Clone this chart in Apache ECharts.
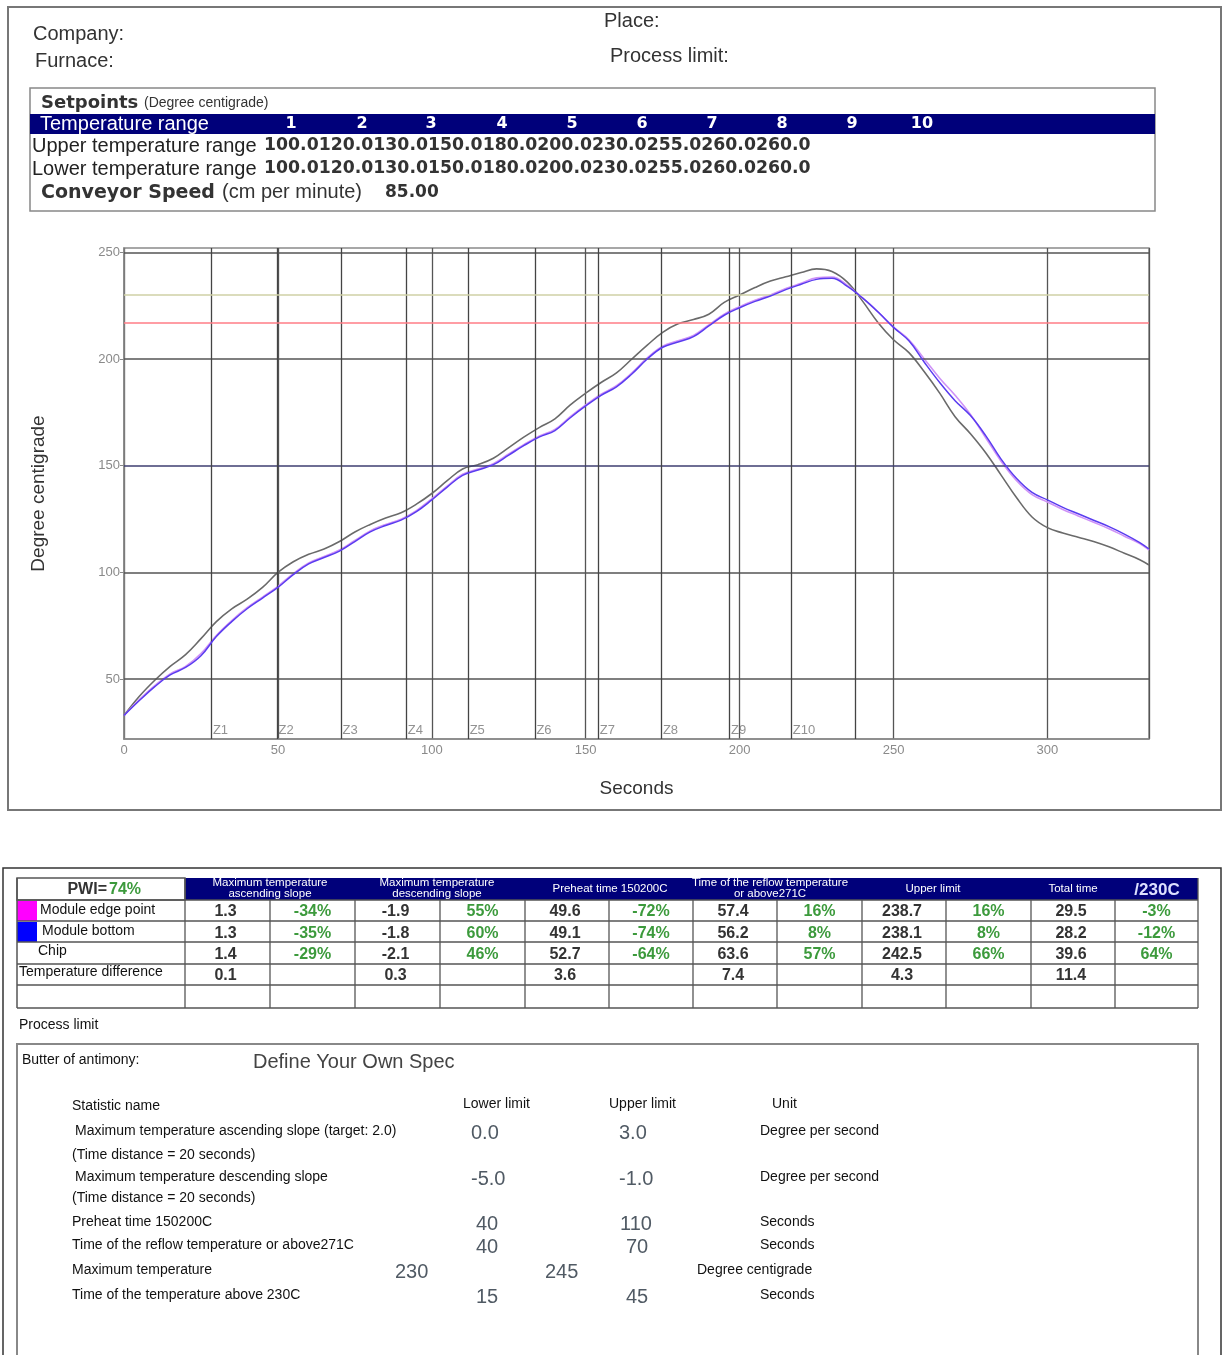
<!DOCTYPE html>
<html>
<head>
<meta charset="utf-8">
<script src="https://cdn.jsdelivr.net/npm/echarts@6/dist/echarts.min.js"></script>
<style>
html, body { margin: 0; padding: 0; background: #fff; }
#container { width: 1227px; height: 1355px; }
</style>
</head>
<body>
<div id="container"></div>
<script>
var dom = document.getElementById('container');
var myChart = echarts.init(dom, null, { renderer: 'canvas' });

// profile samples (seconds)
var times = [0, 5, 10, 15, 20, 25, 30, 35, 40, 45, 50, 55, 60, 65, 70, 75, 80, 85, 90, 95,
  100, 105, 110, 115, 120, 125, 130, 135, 140, 145, 150, 155, 160, 165, 170, 175, 180, 185, 190, 195,
  200, 205, 210, 215, 220, 225, 230, 235, 240, 245, 250, 255, 260, 265, 270, 275, 280, 285, 290, 295,
  300, 305, 310, 315, 320, 325, 330, 333];

// Chip (grey)
var chipTemp = [33, 42, 49.5, 56, 61.5, 69, 77, 83, 87.5, 93, 100, 105, 108.5, 111, 114.5, 119, 122.5, 125.5, 128, 132,
  137, 143, 148.5, 150.5, 153.5, 158.5, 163.5, 168, 172, 178.5, 184, 189, 193.5, 200, 206.5, 212.5, 216.5, 218.5, 221, 226.5,
  230, 233.5, 236.5, 238.5, 240.5, 242.2, 241, 236, 227, 217, 209, 203, 194, 184, 173, 165, 156, 145.5, 135, 126,
  121, 118.5, 116.5, 114.5, 112, 109, 106, 103.5];

// Module edge point (violet)
var edgeTemp = [33, 40.5, 47, 52.5, 56, 62, 70.5, 77.5, 83.5, 88.5, 93.5, 99.5, 104.5, 107.5, 110.5, 115, 119.5, 122.5, 125, 129,
  134.5, 140.5, 146, 148.5, 151, 155.5, 160, 164, 167, 173, 178.5, 183.5, 187.5, 193.5, 200.5, 206, 208.5, 211, 216, 221,
  224.5, 227.5, 230, 233, 235.5, 238, 238.4, 234.5, 228.5, 222, 215, 209, 200, 191, 183, 174, 163, 152, 143, 136.5,
  133, 129.5, 126.5, 123.5, 120.5, 117, 113.5, 110.5];

// Module bottom (blue)
var bottomTemp = [33, 40, 46.5, 52, 55.5, 61, 70, 77, 83, 88, 93, 99, 104, 107, 110, 114.5, 119, 122, 124.5, 128.5,
  134, 140, 145.5, 148, 150.5, 155, 159.5, 163.5, 166.5, 172.5, 178, 183, 187, 193, 200, 205.5, 208, 210.5, 215.5, 220.5,
  224, 227, 229.5, 232.5, 235, 237.3, 237.8, 234, 228.5, 222, 214.8, 208.5, 198.5, 189, 180.5, 173.5, 164, 153, 144, 137.5,
  134, 130.5, 127.5, 124.5, 121.5, 118, 114, 111];

var zoneNames = ['Z1', 'Z2', 'Z3', 'Z4', 'Z5', 'Z6', 'Z7', 'Z8', 'Z9', 'Z10'];
var zoneTimes = [28.4, 49.7, 70.5, 91.7, 111.8, 133.5, 154.1, 174.6, 196.7, 216.8];
var exitTime = [237.6];
var yTicks = [50, 100, 150, 200, 250];
var limitHigh = 230;
var limitLow = 217;

// setpoints
var zoneNums = ['1', '2', '3', '4', '5', '6', '7', '8', '9', '10'];
var upperRange = ['100.0', '120.0', '130.0', '150.0', '180.0', '200.0', '230.0', '255.0', '260.0', '260.0'];
var lowerRange = ['100.0', '120.0', '130.0', '150.0', '180.0', '200.0', '230.0', '255.0', '260.0', '260.0'];
var conveyorSpeed = '85.00';

// results table
var rowNames = ['Module edge point', 'Module bottom', 'Chip', 'Temperature difference'];
var slopeUp = ['1.3', '1.3', '1.4', '0.1'];
var slopeUpPct = ['-34%', '-35%', '-29%', ''];
var slopeDown = ['-1.9', '-1.8', '-2.1', '0.3'];
var slopeDownPct = ['55%', '60%', '46%', ''];
var preheat = ['49.6', '49.1', '52.7', '3.6'];
var preheatPct = ['-72%', '-74%', '-64%', ''];
var reflow = ['57.4', '56.2', '63.6', '7.4'];
var reflowPct = ['16%', '8%', '57%', ''];
var peak = ['238.7', '238.1', '242.5', '4.3'];
var peakPct = ['16%', '8%', '66%', ''];
var totalTime = ['29.5', '28.2', '39.6', '11.4'];
var totalPct = ['-3%', '-12%', '64%', ''];

// process limit spec
var specNames = ['Maximum temperature ascending slope (target: 2.0)', '(Time distance = 20 seconds)',
  'Maximum temperature descending slope', '(Time distance = 20 seconds)', 'Preheat time 150200C',
  'Time of the reflow temperature or above271C', 'Maximum temperature', 'Time of the temperature above 230C'];
var specLower = ['0.0', '', '-5.0', '', '40', '40', '230', '15'];
var specUpper = ['3.0', '', '-1.0', '', '110', '70', '245', '45'];
var specUnit = ['Degree per second', '', 'Degree per second', '', 'Seconds', 'Seconds', 'Degree centigrade', 'Seconds'];

var SANS = '"Liberation Sans", Arial, sans-serif';
var WIDE = '"DejaVu Sans", Verdana, sans-serif';

function txt(x, y, s, font, fill, align) {
  return {
    type: 'text', z: 10,
    style: { x: x, y: y, text: s, font: font, fill: fill || '#222',
      align: align || 'left', verticalAlign: 'middle' }
  };
}
function box(x, y, w, h, stroke, lw, fill) {
  return { type: 'rect', z: 1, shape: { x: x, y: y, width: w, height: h },
    style: { fill: fill || 'none', stroke: stroke || 'none', lineWidth: lw || 1 } };
}
function ln(x1, y1, x2, y2, stroke, lw) {
  return { type: 'line', z: 2, shape: { x1: x1, y1: y1, x2: x2, y2: y2 },
    style: { stroke: stroke || '#555', lineWidth: lw || 1 } };
}

var g = [];
// top panel
g.push(box(8, 7, 1213, 803, '#777', 2));
g.push(txt(33, 34, 'Company:', '20px ' + SANS, '#333'));
g.push(txt(35, 61, 'Furnace:', '20px ' + SANS, '#333'));
g.push(txt(604, 21, 'Place:', '20px ' + SANS, '#333'));
g.push(txt(610, 56, 'Process limit:', '20px ' + SANS, '#333'));

// setpoints box
g.push(box(30, 88, 1125, 123, '#888', 1.5));
g.push(txt(41, 103, 'Setpoints', 'bold 18px ' + WIDE, '#333'));
g.push(txt(144, 103, '(Degree centigrade)', '14px ' + SANS, '#333'));
g.push(box(30, 114, 1125, 20, null, 0, '#00007a'));
g.push(txt(40, 124, 'Temperature range', '20px ' + SANS, '#fff'));
var numX = [291, 362, 431, 502, 572, 642, 712, 782, 852, 922];
zoneNums.forEach(function (n, i) {
  g.push(txt(numX[i], 124, n, 'bold 16px ' + WIDE, '#fff', 'center'));
});
g.push(txt(32, 146, 'Upper temperature range', '20px ' + SANS, '#222'));
g.push(txt(264, 146, upperRange.join(''), 'bold 17.3px ' + WIDE, '#333'));
g.push(txt(32, 169, 'Lower temperature range', '20px ' + SANS, '#222'));
g.push(txt(264, 169, lowerRange.join(''), 'bold 17.3px ' + WIDE, '#333'));
g.push(txt(41, 193, 'Conveyor Speed', 'bold 19px ' + WIDE, '#333'));
g.push(txt(222, 192, '(cm per minute)', '20px ' + SANS, '#333'));
g.push(txt(385, 193, conveyorSpeed, 'bold 17px ' + WIDE, '#333'));

// bottom panel
g.push(box(3, 868, 1218, 520, '#333', 1.5));
var colX = [185, 270, 355, 440, 525, 609, 693, 777, 862, 946, 1031, 1115, 1198];
var rowY = [878, 900, 921, 942, 964, 985, 1008];
g.push(box(185, 878, 1013, 22, null, 0, '#00007a'));
g.push(box(17, 878, 168, 22, '#555', 1.5, '#fff'));
rowY.slice(1).forEach(function (y) { g.push(ln(17, y, 1198, y, '#555', 1.3)); });
g.push(ln(17, 878, 17, 1008, '#555', 1.5));
colX.forEach(function (x, i) {
  var top = (i === 0 || i === colX.length - 1) ? 878 : 900;
  g.push(ln(x, top, x, 1008, '#555', 1.3));
});
g.push(box(17, 901, 20, 20, null, 0, '#ff00ff'));
g.push(box(17, 922, 20, 20, null, 0, '#0000ff'));
g.push(txt(107, 890, 'PWI=', 'bold 16px ' + SANS, '#333', 'right'));
g.push(txt(109, 890, '74%', 'bold 16px ' + SANS, '#3c9a3c'));
var nameX = [40, 42, 38, 19];
rowNames.forEach(function (n, i) {
  g.push(txt(nameX[i], 910 + i * 20.8, n, '14px ' + SANS, '#111'));
});
var heads = [
  { c: 270, l: ['Maximum temperature', 'ascending slope'] },
  { c: 437, l: ['Maximum temperature', 'descending slope'] },
  { c: 610, l: ['Preheat time 150200C'] },
  { c: 770, l: ['Time of the reflow temperature', 'or above271C'] },
  { c: 933, l: ['Upper limit'] },
  { c: 1073, l: ['Total time'] }
];
heads.forEach(function (h) {
  if (h.l.length === 2) {
    g.push(txt(h.c, 883, h.l[0], '11.5px ' + SANS, '#fff', 'center'));
    g.push(txt(h.c, 894, h.l[1], '11.5px ' + SANS, '#fff', 'center'));
  } else {
    g.push(txt(h.c, 889, h.l[0], '11.5px ' + SANS, '#fff', 'center'));
  }
});
g.push(txt(1157, 890, '/230C', 'bold 17px ' + SANS, '#dde0ff', 'center'));
var metrics = [[slopeUp, slopeUpPct], [slopeDown, slopeDownPct], [preheat, preheatPct],
  [reflow, reflowPct], [peak, peakPct], [totalTime, totalPct]];
metrics.forEach(function (m, k) {
  var c1 = (colX[k * 2] + colX[k * 2 + 1]) / 2 - 2;
  var c2 = (colX[k * 2 + 1] + colX[k * 2 + 2]) / 2;
  for (var r = 0; r < 4; r++) {
    var y = 912 + r * 21.2;
    g.push(txt(c1, y, m[0][r], 'bold 16px ' + SANS, '#333', 'center'));
    if (m[1][r]) g.push(txt(c2, y, m[1][r], 'bold 16px ' + SANS, '#3c9a3c', 'center'));
  }
});

// process limit
g.push(txt(19, 1025, 'Process limit', '14px ' + SANS, '#111'));
g.push(box(17, 1044, 1181, 340, '#888', 2));
g.push(txt(22, 1060, 'Butter of antimony:', '14px ' + SANS, '#111'));
g.push(txt(253, 1062, 'Define Your Own Spec', '20px ' + SANS, '#444'));
g.push(txt(72, 1106, 'Statistic name', '14px ' + SANS, '#111'));
g.push(txt(463, 1104, 'Lower limit', '14px ' + SANS, '#111'));
g.push(txt(609, 1104, 'Upper limit', '14px ' + SANS, '#111'));
g.push(txt(772, 1104, 'Unit', '14px ' + SANS, '#111'));
var specLayout = [
  { y: 1131, nx: 75, lx: 471, ux: 619, ix: 760 },
  { y: 1155, nx: 72 },
  { y: 1177, nx: 75, lx: 471, ux: 619, ix: 760 },
  { y: 1198, nx: 72 },
  { y: 1222, nx: 72, lx: 476, ux: 620, ix: 760 },
  { y: 1245, nx: 72, lx: 476, ux: 626, ix: 760 },
  { y: 1270, nx: 72, lx: 395, ux: 545, ix: 697 },
  { y: 1295, nx: 72, lx: 476, ux: 626, ix: 760 }
];
specNames.forEach(function (n, i) {
  var L = specLayout[i];
  g.push(txt(L.nx, L.y, n, '14px ' + SANS, '#111'));
  if (specLower[i]) g.push(txt(L.lx, L.y + 2, specLower[i], '20px ' + SANS, '#505a64'));
  if (specUpper[i]) g.push(txt(L.ux, L.y + 2, specUpper[i], '20px ' + SANS, '#505a64'));
  if (specUnit[i]) g.push(txt(L.ix, L.y, specUnit[i], '14px ' + SANS, '#111'));
});

function pairs(vals) {
  return times.map(function (t, i) { return [t, vals[i]]; });
}

var refLines = [];
yTicks.forEach(function (v) {
  refLines.push({ yAxis: v, lineStyle: { color: v === 150 ? '#3e3e70' : '#555', width: 1.5, type: 'solid' } });
});
zoneTimes.concat(exitTime).forEach(function (t) {
  refLines.push({ xAxis: t, lineStyle: { color: '#444', width: 1.3, type: 'solid' } });
});
refLines.push({ yAxis: limitHigh, lineStyle: { color: '#cfd0a6', width: 1.5, type: 'solid' } });
refLines.push({ yAxis: limitLow, lineStyle: { color: '#ff7c86', width: 1.5, type: 'solid' } });

var option = {
  animation: false,
  backgroundColor: '#fff',
  graphic: g,
  grid: {
    left: 124, right: 78, top: 248, bottom: 616,
    show: true, borderColor: '#8a8a8a', borderWidth: 1.5, backgroundColor: '#fff'
  },
  xAxis: {
    type: 'value', min: 0, max: 333, interval: 50,
    name: 'Seconds', nameLocation: 'middle', nameGap: 40,
    nameTextStyle: { fontSize: 19, color: '#333', fontFamily: SANS },
    axisLine: { lineStyle: { color: '#888', width: 1.5 } },
    axisTick: { show: false },
    axisLabel: { color: '#8a8a8a', fontSize: 13, fontFamily: SANS, margin: 5, showMaxLabel: false },
    splitLine: { show: true, lineStyle: { color: '#555', width: 1.3 } }
  },
  yAxis: {
    type: 'value', min: 22, max: 252,
    name: 'Degree centigrade', nameLocation: 'middle', nameGap: 76,
    nameTextStyle: { fontSize: 19, color: '#333', fontFamily: SANS },
    axisLine: { show: true, lineStyle: { color: '#888', width: 1.5 } },
    axisTick: { show: true, length: 4, customValues: yTicks, lineStyle: { color: '#888' } },
    axisLabel: { customValues: yTicks, color: '#8a8a8a', fontSize: 13, fontFamily: SANS, margin: 4 },
    splitLine: { show: false }
  },
  series: [
    {
      name: 'ref', type: 'line', data: [], z: 1, silent: true,
      markLine: { silent: true, symbol: ['none', 'none'], label: { show: false }, animation: false, data: refLines }
    },
    {
      name: 'Chip', type: 'line', data: pairs(chipTemp), smooth: 0.4, showSymbol: false, z: 3,
      lineStyle: { color: '#6a6a6a', width: 1.6 }
    },
    {
      name: 'Module edge point', type: 'line', data: pairs(edgeTemp), smooth: 0.4, showSymbol: false, z: 4,
      lineStyle: { color: '#cf92f7', width: 1.6 }
    },
    {
      name: 'Module bottom', type: 'line', data: pairs(bottomTemp), smooth: 0.4, showSymbol: false, z: 5,
      lineStyle: { color: '#5a3cf0', width: 1.5 }
    },
    {
      name: 'zones', type: 'scatter', symbolSize: 1, z: 6, silent: true,
      itemStyle: { color: 'rgba(0,0,0,0)' },
      data: zoneTimes.map(function (t, i) { return { value: [t, 26], name: zoneNames[i] }; }),
      label: { show: true, position: 'right', distance: 1, formatter: '{b}', color: '#777', fontSize: 13, fontFamily: SANS }
    }
  ]
};

myChart.setOption(option);
window.addEventListener('resize', myChart.resize);
</script>
</body>
</html>
